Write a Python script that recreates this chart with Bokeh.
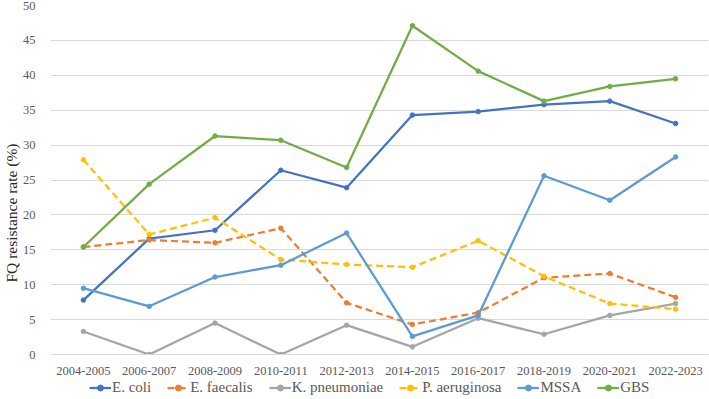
import math
from bokeh.plotting import figure
from bokeh.layouts import column
from bokeh.models import FactorRange, Range1d, Legend, LegendItem, Title, FixedTicker
from bokeh.embed import file_html
from bokeh.resources import INLINE

periods = ["2004-2005", "2006-2007", "2008-2009", "2010-2011", "2012-2013",
           "2014-2015", "2016-2017", "2018-2019", "2020-2021", "2022-2023"]
e_coli = [7.8, 16.6, 17.8, 26.4, 23.9, 34.3, 34.8, 35.8, 36.3, 33.1]
e_faecalis = [15.4, 16.4, 16.0, 18.1, 7.4, 4.3, 6.0, 11.0, 11.6, 8.2]
k_pneumoniae = [3.3, 0.0, 4.5, 0.0, 4.2, 1.1, 5.2, 2.9, 5.6, 7.3]
p_aeruginosa = [27.9, 17.2, 19.6, 13.6, 12.9, 12.5, 16.3, 11.2, 7.3, 6.5]
mssa = [9.5, 6.9, 11.1, 12.8, 17.4, 2.6, 5.6, 25.6, 22.1, 28.3]
gbs = [15.4, 24.4, 31.3, 30.7, 26.8, 47.1, 40.6, 36.3, 38.4, 39.5]
y_ticks = [0, 5, 10, 15, 20, 25, 30, 35, 40, 45, 50]

series = [
    ("E. coli", e_coli, "#4472C4", "solid"),
    ("E. faecalis", e_faecalis, "#ED7D31", "7 4"),
    ("K. pneumoniae", k_pneumoniae, "#A5A5A5", "solid"),
    ("P. aeruginosa", p_aeruginosa, "#FFC000", "7 4"),
    ("MSSA", mssa, "#5B9BD5", "solid"),
    ("GBS", gbs, "#70AD47", "solid"),
]

FONT = "Liberation Serif"

p = figure(width=709, height=377,
           x_range=FactorRange(*periods, range_padding=0),
           y_range=Range1d(0, 50),
           output_backend="svg", toolbar_location=None,
           min_border_left=0, min_border_right=1, min_border_top=5,
           min_border_bottom=0)
p.outline_line_color = None
p.background_fill_color = "white"
p.border_fill_color = "white"

p.xgrid.grid_line_color = None
p.ygrid.grid_line_color = "#D9D9D9"
p.ygrid.grid_line_width = 1

p.yaxis.ticker = FixedTicker(ticks=y_ticks)
p.yaxis.axis_line_color = None
p.yaxis.major_tick_line_color = None
p.yaxis.minor_tick_line_color = None
p.yaxis.major_label_text_font = FONT
p.yaxis.major_label_text_font_size = "12.5px"
p.yaxis.major_label_text_color = "#595959"
p.yaxis.major_label_standoff = 9

p.xaxis.axis_line_color = "#D9D9D9"
p.xaxis.major_tick_line_color = None
p.xaxis.minor_tick_line_color = None
p.xaxis.major_label_text_font = FONT
p.xaxis.major_label_text_font_size = "12.5px"
p.xaxis.major_label_text_color = "#595959"
p.xaxis.major_label_standoff = 6

for name, vals, color, dash in series:
    p.line(periods, vals, line_color=color, line_width=2.25, line_dash=dash)
    p.scatter(periods, vals, size=4.5, fill_color=color, line_color=color)

ytitle = Title(text="FQ resistance rate (%)", align="left", offset=72,
               text_font=FONT, text_font_size="15.5px", text_color="#262626",
               text_font_style="normal", standoff=0)
p.add_layout(ytitle, "left")

# legend strip (separate figure; its series lie outside its visible range)
p2 = figure(width=709, height=22, x_range=p.x_range, y_range=Range1d(100, 101),
            output_backend="svg", toolbar_location=None,
            min_border_left=0, min_border_right=0, min_border_top=0,
            min_border_bottom=0)
p2.axis.visible = False
p2.grid.grid_line_color = None
p2.outline_line_color = None
items = []
for name, vals, color, dash in series:
    lr = p2.line(periods, vals, line_color=color, line_width=2.25, line_dash=dash)
    sr = p2.scatter(periods, vals, size=4.5, fill_color=color, line_color=color)
    items.append(LegendItem(label=name, renderers=[lr, sr]))

legend = Legend(items=items, orientation="horizontal", location=(39, 3),
                label_text_font=FONT, label_text_font_size="15px",
                label_text_color="#595959", glyph_width=22, glyph_height=15,
                label_height=15, label_standoff=1, spacing=16, padding=0,
                margin=0, border_line_color=None, background_fill_alpha=0)
p2.add_layout(legend, "center")

layout = column(p, p2, spacing=0)
open("out.html", "w").write(file_html(layout, INLINE))
